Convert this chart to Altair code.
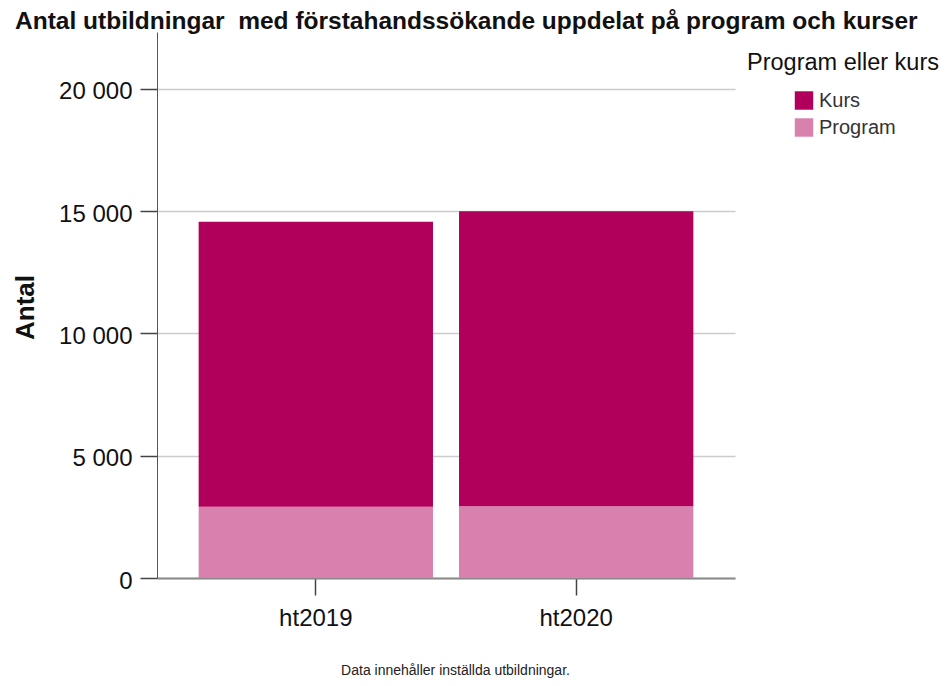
import altair as alt
import pandas as pd

terms = ["ht2019", "ht2020"]
program_vals = [2916, 2930]
kurs_vals = [11657, 12070]
types = ["Kurs", "Program"]
colors = ["#B0005B", "#D880AE"]
y_ticks = [0, 5000, 10000, 15000, 20000]

rows = []
for t, p, k in zip(terms, program_vals, kurs_vals):
    rows.append({"termin": t, "typ": "Program", "antal": p, "ordning": 0})
    rows.append({"termin": t, "typ": "Kurs", "antal": k, "ordning": 1})
df = pd.DataFrame(rows)

FONT = "Liberation Sans"

chart = alt.Chart(df).mark_bar().encode(
    x=alt.X("termin:N", sort=terms,
            scale=alt.Scale(paddingInner=0.1, paddingOuter=0.16),
            axis=alt.Axis(title="Data innehåller inställda utbildningar.",
                          titleFont=FONT, titleFontSize=14, titleFontWeight="normal",
                          titleColor="#222222", titleX=298, titleY=92,
                          titleBaseline="middle", titleAlign="center",
                          labelAngle=0, labelFont=FONT, labelFontSize=24,
                          labelColor="#111111", labelPadding=11,
                          tickSize=17, tickColor="#444444", tickWidth=1.5,
                          domainColor="#8a8a8a", domainWidth=2, grid=False)),
    y=alt.Y("antal:Q", stack="zero",
            scale=alt.Scale(domain=[0, 22330], nice=False),
            axis=alt.Axis(title="Antal", values=y_ticks,
                          labelExpr="replace(format(datum.value, ','), ',', ' ')",
                          titleFont=FONT, titleFontSize=26, titleFontWeight="bold",
                          titleColor="#111111", titleX=-132, titleY=275,
                          titleAngle=270, titleBaseline="middle", titleAlign="center",
                          labelFont=FONT, labelFontSize=24, labelColor="#111111",
                          labelPadding=8, labelOffset=3,
                          tickSize=17, tickColor="#444444", tickWidth=1.5,
                          domainColor="#555555", domainWidth=1,
                          grid=True, gridColor="#cccccc", gridWidth=1.5)),
    color=alt.Color("typ:N",
                    scale=alt.Scale(domain=types, range=colors),
                    legend=alt.Legend(title="Program eller kurs", orient="none",
                                      legendX=590, legendY=19,
                                      titleFont=FONT, titleFontSize=23.5,
                                      titleFontWeight="normal", titleColor="#111111",
                                      titlePadding=16, titleLimit=400,
                                      labelFont=FONT, labelFontSize=20,
                                      labelColor="#333333", labelOffset=5,
                                      symbolType="square", symbolSize=340,
                                      symbolStrokeWidth=0, symbolOpacity=1,
                                      symbolOffset=47, rowPadding=7)),
    order=alt.Order("ordning:Q"),
).properties(
    width=578,
    height=546,
    autosize=alt.AutoSizeParams(type="none"),
    padding={"left": 149, "top": 24, "right": 208, "bottom": 100},
    title=alt.TitleParams(
        text="Antal utbildningar\u00a0 med förstahandssökande uppdelat på program och kurser",
        font=FONT, fontSize=24.5, fontWeight="bold", color="#111111",
        anchor="start", frame="group", dx=-142, dy=25, offset=4,
        baseline="alphabetic", limit=1000),
).configure_view(stroke=None)

chart.save("out.html", embed_options={"renderer": "svg", "actions": False})
